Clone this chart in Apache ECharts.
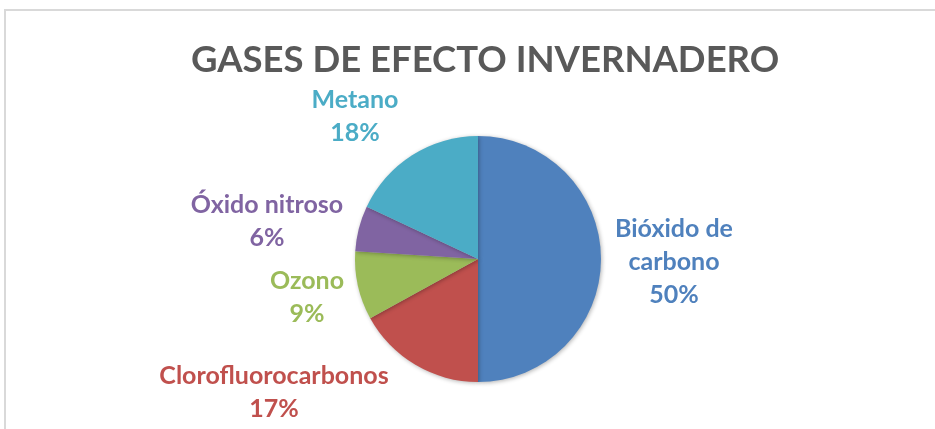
<!DOCTYPE html>
<html>
<head>
<meta charset="utf-8">
<script src="https://cdn.jsdelivr.net/npm/echarts@6/dist/echarts.min.js"></script>
<style>
html,body{margin:0;padding:0;background:#fff;}
#chart{width:935px;height:429px;}
</style>
</head>
<body>
<div id="chart"></div>
<script>
// datos del gráfico
var gases = ['Bióxido de\ncarbono', 'Clorofluorocarbonos', 'Ozono', 'Óxido nitroso', 'Metano'];
var porcentajes = [50, 17, 9, 6, 18];
var colores = ['#4F81BD', '#C0504D', '#9BBB59', '#8064A2', '#4BACC6'];

// centros de etiqueta (estilo Excel)
var posEtiquetas = [[674, 262], [274, 392], [307, 297], [267, 221], [355, 116]];

var pieData = [];
for (var i = 0; i < gases.length; i++) {
	pieData.push({
		name: gases[i],
		value: porcentajes[i],
		itemStyle: { color: colores[i] },
		label: { color: colores[i] }
	});
}

var chart = echarts.init(document.getElementById('chart'));
chart.setOption({
	animation: false,
	title: {
		text: 'GASES DE EFECTO INVERNADERO',
		left: 186,
		top: 37,
		textStyle: {
			fontFamily: 'Lato',
			fontSize: 36.5,
			fontWeight: 'bold',
			color: '#595959'
		}
	},
	graphic: [{
		type: 'polyline',
		shape: { points: [[5, 429], [5, 10], [935, 10]] },
		style: { stroke: '#d9d9d9', lineWidth: 2, fill: null }
	}],
	series: [{
		type: 'pie',
		center: [478, 259],
		radius: 123,
		startAngle: 90,
		clockwise: true,
		itemStyle: {
			shadowBlur: 4,
			shadowColor: 'rgba(0,0,0,0.3)',
			shadowOffsetX: 1,
			shadowOffsetY: 1
		},
		label: {
			show: true,
			position: 'outside',
			formatter: '{b}\n{d}%',
			fontFamily: 'Lato',
			fontSize: 25,
			fontWeight: 'bold',
			lineHeight: 33,
			align: 'center'
		},
		labelLine: { show: false },
		labelLayout: function (params) {
			var p = posEtiquetas[params.dataIndex];
			return { x: p[0], y: p[1], align: 'center', verticalAlign: 'middle' };
		},
		data: pieData
	}]
});
</script>
</body>
</html>
